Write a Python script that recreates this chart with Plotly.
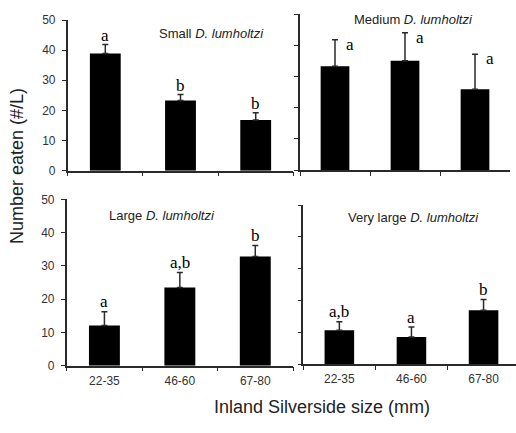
import plotly.graph_objects as go

# ---------------- data ----------------
categories = ["22-35", "46-60", "67-80"]

small_vals = [38.9, 23.3, 16.8]
small_err = [3.0, 2.0, 2.4]
small_letters = ["a", "b", "b"]

medium_vals = [33.3, 35.1, 25.9]
medium_err = [8.5, 9.0, 11.3]
medium_letters = ["a", "a", "a"]

large_vals = [12.1, 23.5, 32.8]
large_err = [4.1, 4.5, 3.3]
large_letters = ["a", "a,b", "b"]

vlarge_vals = [10.6, 8.5, 16.9]
vlarge_err = [2.7, 3.1, 3.4]
vlarge_letters = ["a,b", "a", "b"]

panel_titles = ["Small <i>D. lumholtzi</i>", "Medium <i>D. lumholtzi</i>",
                "Large <i>D. lumholtzi</i>", "Very large <i>D. lumholtzi</i>"]
y_ticks = [0, 10, 20, 30, 40, 50]

# ---------------- layout helpers ----------------
W, H = 516, 433
def px(x):
    return x / W
def py(y):
    return 1 - y / H

SANS = "Liberation Sans, Arial, sans-serif"
SERIF = "Liberation Serif, Times New Roman, serif"
AX = "#2a2a2a"

# pixel geometry of each panel
panels = [
    dict(x0=67.7, x1=293.3, yt=20.0, yb=170.7, xend=2.5, title_xy=(211, 33), bottom=False, left=True, letter_dx=0, letter_dy=9),
    dict(x0=300.0, x1=510.0, yt=14.3, yb=170.0, xend=2.5, title_xy=(413, 19), bottom=False, left=False, letter_dx=15, letter_dy=-4.5),
    dict(x0=66.7, x1=293.0, yt=199.3, yb=365.7, xend=2.5, title_xy=(162, 215), bottom=True, left=True, letter_dx=0, letter_dy=10),
    dict(x0=303.3, x1=516.0, yt=205.0, yb=364.0, xend=2.45, title_xy=(413, 217), bottom=True, left=False, letter_dx=0, letter_dy=10),
]
series = [
    (small_vals, small_err, small_letters),
    (medium_vals, medium_err, medium_letters),
    (large_vals, large_err, large_letters),
    (vlarge_vals, vlarge_err, vlarge_letters),
]

fig = go.Figure()
annotations = []
layout_axes = {}

for i, (p, (vals, errs, letters)) in enumerate(zip(panels, series)):
    n = "" if i == 0 else str(i + 1)
    xa, ya = "x" + n, "y" + n
    fig.add_trace(go.Bar(
        x=categories, y=vals, xaxis=xa, yaxis=ya,
        width=0.41,
        marker=dict(color="black", line=dict(width=0)),
        error_y=dict(type="data", symmetric=False, array=errs,
                     arrayminus=[0] * len(errs), color=AX,
                     thickness=1.5, width=3),
        showlegend=False,
    ))
    layout_axes["xaxis" + n] = dict(
        domain=[px(p["x0"]), px(p["x1"])], anchor=ya, type="category",
        range=[-0.5, p["xend"]], showline=True, linecolor=AX, linewidth=1.5,
        ticks="outside", tickson="boundaries", ticklen=4, tickcolor=AX, tickwidth=1.2,
        showticklabels=p["bottom"], tickfont=dict(family=SANS, size=12, color="#333"),
        ticklabelstandoff=3, showgrid=False, zeroline=False, fixedrange=True,
        automargin=False,
    )
    layout_axes["yaxis" + n] = dict(
        domain=[py(p["yb"]), py(p["yt"])], anchor=xa, range=[0, 50],
        tickvals=y_ticks, showline=True, linecolor=AX, linewidth=1.5,
        ticks="outside", ticklen=4, tickcolor=AX, tickwidth=1.2,
        showticklabels=p["left"], tickfont=dict(family=SANS, size=12, color="#333"),
        ticklabelstandoff=4, showgrid=False, zeroline=False, fixedrange=True,
        automargin=False,
    )
    for c, v, e, L in zip(categories, vals, errs, letters):
        annotations.append(dict(
            x=c, y=v + e, xref=xa, yref=ya, text=L, showarrow=False,
            xanchor="center", yanchor="middle",
            xshift=p["letter_dx"], yshift=p["letter_dy"],
            font=dict(family=SERIF, size=17, color="black"),
        ))
    tx, ty = p["title_xy"]
    annotations.append(dict(
        x=px(tx), y=py(ty), xref="paper", yref="paper", text=panel_titles[i],
        showarrow=False, xanchor="center", yanchor="middle",
        font=dict(family=SANS, size=13, color="#222"),
    ))

annotations.append(dict(
    x=px(17), y=py(166), xref="paper", yref="paper", text="Number eaten (#/L)",
    textangle=-90, showarrow=False, xanchor="center", yanchor="middle",
    font=dict(family=SANS, size=18, color="#222"),
))
annotations.append(dict(
    x=px(322), y=py(407), xref="paper", yref="paper", text="Inland Silverside size (mm)",
    showarrow=False, xanchor="center", yanchor="middle",
    font=dict(family=SANS, size=18, color="#222"),
))

fig.update_layout(
    width=W, height=H,
    margin=dict(l=0, r=0, t=0, b=0, autoexpand=False),
    paper_bgcolor="white", plot_bgcolor="white",
    bargap=0.5,
    annotations=annotations,
    **layout_axes,
)

fig.write_html(
    "out.html",
    config={"displayModeBar": False},
    post_script="document.body.style.margin='0';document.body.style.overflow='hidden';",
)
